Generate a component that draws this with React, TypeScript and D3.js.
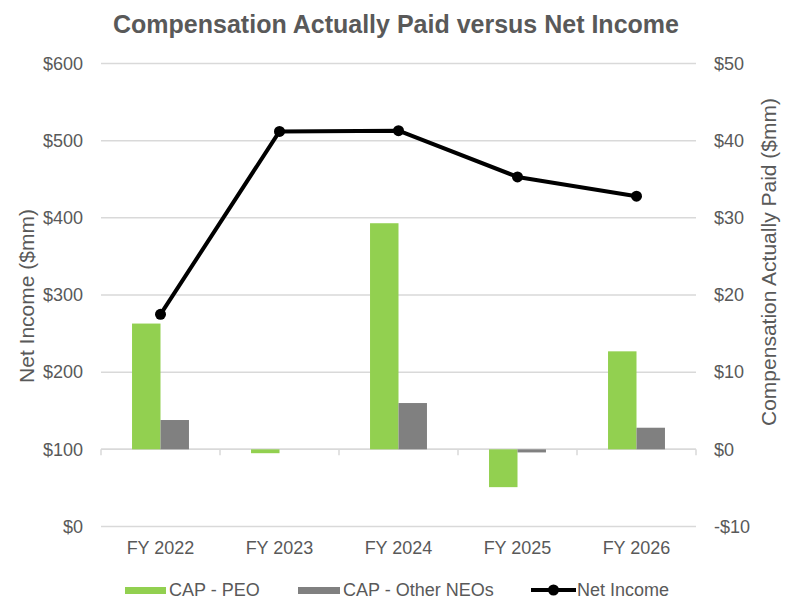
import React from "react";
import * as d3 from "d3";

// chart data
const years = ["FY 2022", "FY 2023", "FY 2024", "FY 2025", "FY 2026"];
const capPeo = [16.3, -0.5, 29.3, -4.9, 12.7];
const capOther = [3.8, 0, 6.0, -0.4, 2.8];
const netIncome = [275, 512, 513, 453, 428];
const leftTicks = [0, 100, 200, 300, 400, 500, 600];
const rightTicks = [-10, 0, 10, 20, 30, 40, 50];

const width = 798;
const height = 614;
const plot = { left: 101, right: 696, top: 63.5, bottom: 526.5 };
const font = "'Liberation Sans', Arial, sans-serif";
const textColor = "#595959";
const green = "#92D050";
const gray = "#808080";

function App() {
  const x = d3.scaleBand().domain(years).range([plot.left, plot.right]).padding(0);
  const yLeft = d3.scaleLinear().domain([0, 600]).range([plot.bottom, plot.top]);
  const yRight = d3.scaleLinear().domain([-10, 50]).range([plot.bottom, plot.top]);
  // two bars side by side, centred in each category
  const series = d3
    .scaleBand()
    .domain(["peo", "other"])
    .range([0, x.bandwidth()])
    .paddingOuter(1.09)
    .paddingInner(0);

  const line = d3
    .line<number>()
    .x((_, i) => x(years[i])! + x.bandwidth() / 2)
    .y((d) => yLeft(d));

  const zeroY = yRight(0);
  const bar = (v: number) => ({ y: Math.min(yRight(v), zeroY), h: Math.abs(yRight(v) - zeroY) });

  const boundaries = [...years.map((d) => x(d)!), plot.right];

  return (
    <div style={{ position: "absolute", left: 0, top: 0 }}>
      <svg width={width} height={height} style={{ display: "block", background: "#fff" }} fontFamily={font}>
        <text x={396} y={33} textAnchor="middle" fontSize={25} fontWeight="bold" fill={textColor}>
          Compensation Actually Paid versus Net Income
        </text>

        {/* gridlines from the left axis */}
        {leftTicks.map((t) => (
          <line key={t} x1={plot.left} x2={plot.right} y1={yLeft(t)} y2={yLeft(t)} stroke="#D9D9D9" strokeWidth={1.5} />
        ))}

        {/* category axis at zero of the right axis */}
        <line x1={plot.left} x2={plot.right} y1={zeroY} y2={zeroY} stroke="#D9D9D9" strokeWidth={1.5} />
        {boundaries.map((bx, i) => (
          <line key={i} x1={bx} x2={bx} y1={zeroY} y2={zeroY + 6} stroke="#D9D9D9" strokeWidth={1.5} />
        ))}

        {/* bars */}
        {years.map((yr, i) => {
          const b1 = bar(capPeo[i]);
          const b2 = bar(capOther[i]);
          return (
            <g key={yr}>
              <rect x={x(yr)! + series("peo")!} y={b1.y} width={series.bandwidth()} height={b1.h} fill={green} />
              <rect x={x(yr)! + series("other")!} y={b2.y} width={series.bandwidth()} height={b2.h} fill={gray} />
            </g>
          );
        })}

        {/* net income line */}
        <path d={line(netIncome)!} fill="none" stroke="#000" strokeWidth={4} strokeLinejoin="round" />
        {netIncome.map((v, i) => (
          <circle key={i} cx={x(years[i])! + x.bandwidth() / 2} cy={yLeft(v)} r={5.5} fill="#000" />
        ))}

        {/* left axis labels */}
        {leftTicks.map((t) => (
          <text key={t} x={83} y={yLeft(t)} dy="0.35em" textAnchor="end" fontSize={18} fill={textColor}>
            {"$" + t}
          </text>
        ))}
        {/* right axis labels */}
        {rightTicks.map((t) => (
          <text key={t} x={714} y={yRight(t)} dy="0.35em" textAnchor="start" fontSize={18} fill={textColor}>
            {(t < 0 ? "-$" : "$") + Math.abs(t)}
          </text>
        ))}
        {/* category labels */}
        {years.map((yr) => (
          <text key={yr} x={x(yr)! + x.bandwidth() / 2} y={548} dy="0.35em" textAnchor="middle" fontSize={18} fill={textColor}>
            {yr}
          </text>
        ))}

        {/* axis titles */}
        <text transform="translate(27,296) rotate(-90)" dy="0.35em" textAnchor="middle" fontSize={21} fill={textColor}>
          Net Income ($mm)
        </text>
        <text transform="translate(769,262) rotate(-90)" dy="0.35em" textAnchor="middle" fontSize={21} fill={textColor}>
          Compensation Actually Paid ($mm)
        </text>

        {/* legend */}
        <rect x={125} y={587} width={41} height={7} fill={green} />
        <text x={169} y={590} dy="0.35em" fontSize={18} fill={textColor}>CAP - PEO</text>
        <rect x={298} y={587} width={42} height={7} fill={gray} />
        <text x={343} y={590} dy="0.35em" fontSize={18} fill={textColor}>CAP - Other NEOs</text>
        <line x1={531} x2={576} y1={590} y2={590} stroke="#000" strokeWidth={4} />
        <circle cx={553.5} cy={590} r={5.5} fill="#000" />
        <text x={577} y={590} dy="0.35em" fontSize={18} fill={textColor}>Net Income</text>
      </svg>
    </div>
  );
}

export default App;
